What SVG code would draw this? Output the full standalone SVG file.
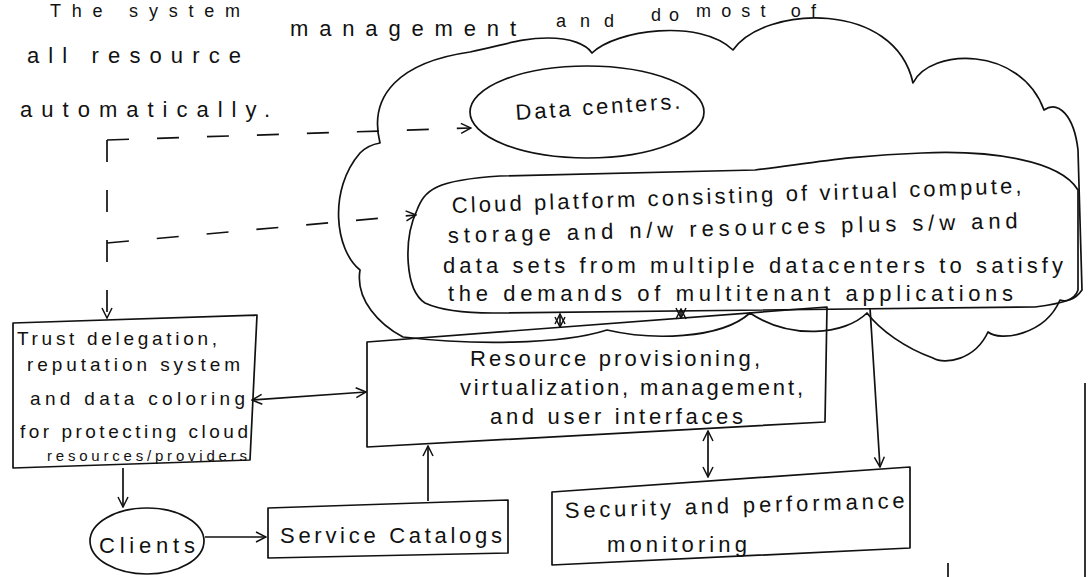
<svg xmlns="http://www.w3.org/2000/svg" width="1089" height="577" viewBox="0 0 1089 577">
<defs>
<style>
.s{fill:none;stroke:#111;stroke-width:1.7;stroke-linejoin:round;stroke-linecap:round}
.d{fill:none;stroke:#111;stroke-width:1.7;stroke-dasharray:22 28}
.c{fill:none;stroke:#111;stroke-width:1.7}
.t{font-family:"Liberation Sans",Arial,sans-serif;font-size:22px;fill:#111}
.sm{font-size:19px}
.xs{font-size:15px}
.top{font-size:18px}
</style>
<marker id="arr" viewBox="0 0 12 12" refX="11" refY="6" markerWidth="12" markerHeight="12" markerUnits="userSpaceOnUse" orient="auto-start-reverse">
<path d="M1,1 L11,6 L1,11" fill="none" stroke="#111" stroke-width="1.5"/>
</marker>
</defs>
<rect width="1089" height="577" fill="#fff"/>

<g id="annotation">
<text class="t top" x="50" y="17" textLength="190" lengthAdjust="spacing">The system</text>
<text class="t top" x="556" y="27" textLength="58" lengthAdjust="spacing">and</text>
<text class="t top" x="651" y="21" textLength="28" lengthAdjust="spacing">do</text>
<text class="t top" x="696" y="17" textLength="120" lengthAdjust="spacing">most of</text>
<text class="t" x="27" y="63" textLength="214" lengthAdjust="spacing">all resource</text>
<text class="t" x="290" y="36" textLength="226" lengthAdjust="spacing">management</text>
<text class="t" x="20" y="117" textLength="250" lengthAdjust="spacing">automatically.</text>
</g>

<g id="cloud">
<path class="s" d="M380,143 C368,95 400,62 470,52 C505,45 520,38 548,38 C570,38 586,44 592,53 C615,30 700,18 733,50 C765,5 895,0 913,83 C930,48 1020,45 1044,110 C1058,100 1074,115 1078,150 L1082,290 C1075,300 1066,302 1060,300 C1045,335 1000,342 988,332 C975,360 945,365 933,358 C905,348 880,330 867,313 C845,335 790,340 750,313 C720,340 650,340 607,330 C560,345 470,345 403,337 C380,325 355,300 360,270 C335,250 328,190 360,153 C366,147 374,144 380,143 Z"/>
</g>

<g id="data-centers">
<ellipse class="s" cx="587" cy="112" rx="117" ry="46"/>
<text class="t" x="516" y="120" textLength="165" lengthAdjust="spacing" transform="rotate(-4 516 120)">Data centers.</text>
</g>

<g id="cloud-platform">
<path class="s" d="M425,303 C405,290 403,240 417,210 C425,190 435,180 500,176 L755,170 C800,165 850,155 922,153 C990,150 1060,160 1078,190 L1078,290 C1075,300 1065,303 1035,307 L493,313 C460,313 440,310 425,303 Z"/>
<text class="t" font-size="21" x="452" y="213" textLength="570" lengthAdjust="spacing" transform="rotate(-2 452 213)">Cloud platform consisting of virtual compute,</text>
<text class="t" font-size="21" x="448" y="243" textLength="570" lengthAdjust="spacing" transform="rotate(-1.5 448 243)">storage and n/w resources plus s/w and</text>
<text class="t" font-size="21" x="443" y="273" textLength="620" lengthAdjust="spacing">data sets from multiple datacenters to satisfy</text>
<text class="t" font-size="21" x="448" y="301" textLength="565" lengthAdjust="spacing">the demands of multitenant applications</text>
</g>

<g id="trust-box">
<path class="s" d="M13,323 L257,315 L250,460 L13,468 Z"/>
<text class="t sm" x="17" y="345" textLength="200" lengthAdjust="spacing">Trust delegation,</text>
<text class="t sm" x="27" y="371" textLength="213" lengthAdjust="spacing">reputation system</text>
<text class="t sm" x="30" y="405" textLength="215" lengthAdjust="spacing">and data coloring</text>
<text class="t sm" x="20" y="438" textLength="228" lengthAdjust="spacing">for protecting cloud</text>
<text class="t xs" x="47" y="461" textLength="200" lengthAdjust="spacing">resources/providers</text>
</g>

<g id="resource-box">
<path class="s" d="M367,342 L827,307 L825,422 L367,447 Z"/>
<text class="t" x="470" y="366" textLength="290" lengthAdjust="spacing">Resource provisioning,</text>
<text class="t" x="460" y="395" textLength="343" lengthAdjust="spacing">virtualization, management,</text>
<text class="t" x="490" y="424" textLength="253" lengthAdjust="spacing">and user interfaces</text>
</g>

<g id="clients">
<ellipse class="s" cx="147" cy="541" rx="57" ry="33"/>
<text class="t" x="99" y="553" textLength="96" lengthAdjust="spacing">Clients</text>
</g>

<g id="service-catalogs">
<path class="s" d="M268,508 L508,500 L508,553 L268,558 Z"/>
<text class="t" x="280" y="543" textLength="222" lengthAdjust="spacing">Service Catalogs</text>
</g>

<g id="security-box">
<path class="s" d="M552,492 L910,467 L910,548 L552,565 Z"/>
<text class="t" x="565" y="518" textLength="340" lengthAdjust="spacing" transform="rotate(-1.7 565 518)">Security and performance</text>
<text class="t" x="607" y="552" textLength="140" lengthAdjust="spacing">monitoring</text>
</g>

<g id="connectors">
<path class="d" d="M107,140 L107,318" marker-end="url(#arr)"/>
<path class="d" d="M107,140 L471,128" marker-end="url(#arr)"/>
<path class="d" d="M107,243 L416,215" marker-end="url(#arr)"/>
<path class="c" d="M252,400 L366,392" marker-start="url(#arr)" marker-end="url(#arr)"/>
<path class="c" d="M123,468 L123,507" marker-end="url(#arr)"/>
<path class="c" d="M205,537 L266,537" marker-end="url(#arr)"/>
<path class="c" d="M428,501 L428,446" marker-end="url(#arr)"/>
<path class="c" d="M708,431 L708,477" marker-start="url(#arr)" marker-end="url(#arr)"/>
<path class="c" d="M870,308 L880,467" marker-end="url(#arr)"/>
<path class="c" d="M560,314 L560,327" marker-start="url(#arr)" marker-end="url(#arr)"/>
<path class="c" d="M681,309 L681,318" marker-start="url(#arr)" marker-end="url(#arr)"/>
</g>

<g id="page-edge">
<path class="c" d="M1085,383 L1085,577"/>
<path class="c" d="M948,563 L948,577"/>
</g>
</svg>
